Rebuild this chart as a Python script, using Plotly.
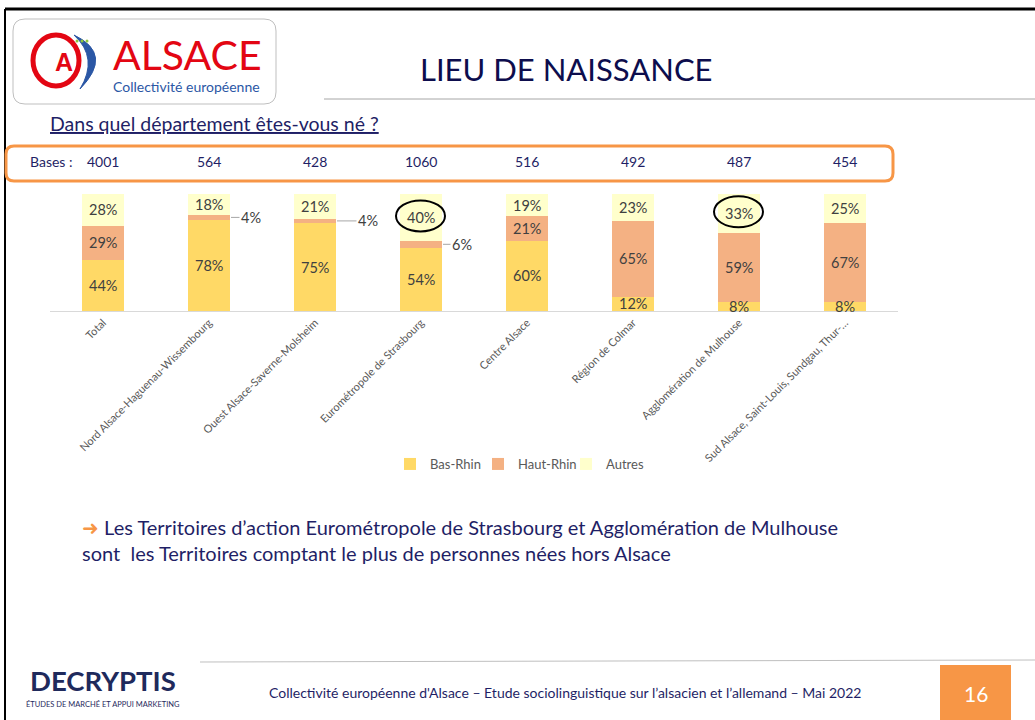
import plotly.graph_objects as go

W, H = 1035, 720

categories = [
    "Total",
    "Nord Alsace-Haguenau-Wissembourg",
    "Ouest Alsace-Saverne-Molsheim",
    "Eurométropole de Strasbourg",
    "Centre Alsace",
    "Région de Colmar",
    "Agglomération de Mulhouse",
    "Sud Alsace, Saint-Louis, Sundgau, Thur-…",
]
bases = [4001, 564, 428, 1060, 516, 492, 487, 454]
bas_rhin = [44, 78, 75, 54, 60, 12, 8, 8]
haut_rhin = [29, 4, 4, 6, 21, 65, 59, 67]
autres = [28, 18, 21, 40, 19, 23, 33, 25]
highlighted = ["Eurométropole de Strasbourg", "Agglomération de Mulhouse"]

series = [
    ("Bas-Rhin", bas_rhin, "#FFD966"),
    ("Haut-Rhin", haut_rhin, "#F4B183"),
    ("Autres", autres, "#FFFFCC"),
]

NAVY = "#1F1F66"
ORANGE = "#F79646"
FONT = "Lato"
# horizontal offset (px) of labels drawn outside the bar with a leader line
outside_offset = {1: 42, 2: 53, 3: 41}


def X(px):
    return px / W


def Y(py):
    return 1 - py / H


def rounded_rect(x0, y0, x1, y1, r):
    return (
        f"M {X(x0 + r)},{Y(y0)} L {X(x1 - r)},{Y(y0)} Q {X(x1)},{Y(y0)} {X(x1)},{Y(y0 + r)} "
        f"L {X(x1)},{Y(y1 - r)} Q {X(x1)},{Y(y1)} {X(x1 - r)},{Y(y1)} "
        f"L {X(x0 + r)},{Y(y1)} Q {X(x0)},{Y(y1)} {X(x0)},{Y(y1 - r)} "
        f"L {X(x0)},{Y(y0 + r)} Q {X(x0)},{Y(y0)} {X(x0 + r)},{Y(y0)} Z"
    )


fig = go.Figure()
for name, vals, color in series:
    fig.add_trace(go.Bar(
        x=categories, y=vals, name=name, width=0.4,
        marker=dict(color=color, line=dict(width=0)),
        hoverinfo="skip",
    ))

annotations = []
shapes = []
label_font = dict(family=FONT, size=14.5, color="#404040")

# segment labels
base = [0] * len(categories)
for name, vals, color in series:
    for i, (cat, v) in enumerate(zip(categories, vals)):
        mid = base[i] + v / 2
        if v <= 6 and i in outside_offset:
            annotations.append(dict(
                x=cat, y=mid, xref="x", yref="y", text=f"{v}%",
                showarrow=True, arrowhead=0, arrowwidth=1, arrowcolor="#A6A6A6",
                ax=outside_offset[i], ay=0, standoff=22, font=label_font,
            ))
        else:
            annotations.append(dict(x=cat, y=mid, xref="x", yref="y", text=f"{v}%",
                                    showarrow=False, font=label_font))
        if name == "Autres" and cat in highlighted:
            shapes.append(dict(
                type="circle", xref="x", yref="y", xsizemode="pixel", ysizemode="pixel",
                xanchor=cat, yanchor=mid, x0=-25, x1=24, y0=-14, y1=17,
                line=dict(color="black", width=2),
            ))
        base[i] += v

# bases row
annotations.append(dict(x=X(28), y=Y(161), text="Bases :", xanchor="left",
                        font=dict(family=FONT, size=14, color=NAVY)))
for cat, b in zip(categories, bases):
    annotations.append(dict(x=cat, y=Y(161), xref="x", yref="paper", text=str(b),
                            font=dict(family=FONT, size=14, color=NAVY)))

# slide frame and decorations
shapes += [
    dict(type="line", xref="paper", yref="paper", x0=X(5), x1=X(1035), y0=Y(9), y1=Y(9),
         line=dict(color="black", width=3)),
    dict(type="line", xref="paper", yref="paper", x0=X(5), x1=X(5), y0=Y(9), y1=Y(720),
         line=dict(color="black", width=2)),
    dict(type="path", xref="paper", yref="paper", path=rounded_rect(13, 19, 276, 104, 12),
         line=dict(color="#BFBFBF", width=1)),
    dict(type="line", xref="paper", yref="paper", x0=X(324), x1=X(1035), y0=Y(99), y1=Y(99),
         line=dict(color="#A6A6A6", width=1)),
    dict(type="path", xref="paper", yref="paper", path=rounded_rect(6, 146, 893, 181, 8),
         line=dict(color=ORANGE, width=3)),
    dict(type="line", xref="paper", yref="paper", x0=X(200), x1=X(1035), y0=Y(662), y1=Y(660),
         line=dict(color="#BFBFBF", width=1)),
    dict(type="rect", xref="paper", yref="paper", x0=X(940), x1=X(1011), y0=Y(665), y1=Y(720),
         fillcolor=ORANGE, line=dict(width=0)),
    # logo mark
    dict(type="circle", xref="paper", yref="paper", x0=X(33), x1=X(79), y0=Y(35), y1=Y(86),
         line=dict(color="#E30613", width=5)),
    dict(type="path", xref="paper", yref="paper",
         path=(f"M {X(74)},{Y(35)} Q {X(114)},{Y(54)} {X(80)},{Y(89)} "
               f"Q {X(99)},{Y(58)} {X(74)},{Y(35)} Z"),
         fillcolor="#2B57A5", line=dict(color="#2B57A5", width=1)),
]
for dx in (77, 82, 87):
    shapes.append(dict(type="circle", xref="paper", yref="paper",
                       x0=X(dx - 1.5), x1=X(dx + 1.5), y0=Y(39.5), y1=Y(42.5),
                       fillcolor="#8DC63F", line=dict(width=0)))

annotations += [
    dict(x=X(64), y=Y(62), text="<b>A</b>", font=dict(family="Liberation Sans", size=25, color="#E30613")),
    dict(x=X(187), y=Y(55), text="ALSACE", font=dict(family=FONT, size=41, color="#E30613")),
    dict(x=X(186), y=Y(86), text="Collectivité européenne", font=dict(family=FONT, size=14, color="#2B57A5")),
    dict(x=X(566), y=Y(69), text="LIEU DE NAISSANCE", font=dict(family=FONT, size=31, color="#0D0D4D")),
    dict(x=X(48), y=Y(123), xanchor="left", text="<u>Dans quel département êtes-vous né ?</u>",
         font=dict(family=FONT, size=19.5, color=NAVY)),
    dict(x=X(80), y=Y(527), xanchor="left",
         text=f"<span style='color:{ORANGE}'>➜</span> Les Territoires d’action Eurométropole de Strasbourg et Agglomération de Mulhouse",
         font=dict(family=FONT, size=20, color=NAVY)),
    dict(x=X(80), y=Y(553), xanchor="left",
         text="sont  les Territoires comptant le plus de personnes nées hors Alsace",
         font=dict(family=FONT, size=20, color=NAVY)),
    dict(x=X(103), y=Y(680), text="<b>DECRYPTIS</b>", font=dict(family=FONT, size=27.5, color="#1F2A5C")),
    dict(x=X(103), y=Y(704), text="ÉTUDES DE MARCHÉ ET APPUI MARKETING", font=dict(family=FONT, size=7.5, color="#1F2A5C")),
    dict(x=X(565), y=Y(692),
         text="Collectivité européenne d'Alsace – Etude sociolinguistique sur l’alsacien et l’allemand – Mai 2022",
         font=dict(family=FONT, size=14, color=NAVY)),
    dict(x=X(976), y=Y(693), text="16", font=dict(family=FONT, size=21, color="white")),
]
for a in annotations:
    a.setdefault("xref", "paper")
    a.setdefault("yref", "paper")
    a.setdefault("showarrow", False)
    a.setdefault("xanchor", "center")
    a.setdefault("yanchor", "middle")

fig.update_layout(
    width=W, height=H,
    margin=dict(l=0, r=0, t=0, b=0),
    paper_bgcolor="white", plot_bgcolor="white",
    barmode="stack", bargap=0.6,
    font=dict(family=FONT, color="#595959"),
    xaxis=dict(domain=[X(50), X(898)], showline=True, linecolor="#D9D9D9", linewidth=1,
               ticks="", tickangle=-45, tickfont=dict(size=11, color="#595959"),
               showgrid=False, fixedrange=True, automargin=False),
    yaxis=dict(domain=[Y(311), Y(194)], range=[0, 100], visible=False, fixedrange=True),
    legend=dict(orientation="h", traceorder="normal", x=X(522), y=Y(464),
                xanchor="center", yanchor="middle", font=dict(size=13, color="#595959"),
                entrywidth=43, entrywidthmode="pixels",
                bgcolor="rgba(0,0,0,0)"),
    showlegend=True,
    annotations=annotations,
    shapes=shapes,
)

fig.write_html("out.html", config={"displayModeBar": False},
               post_script="document.body.style.margin='0';")
